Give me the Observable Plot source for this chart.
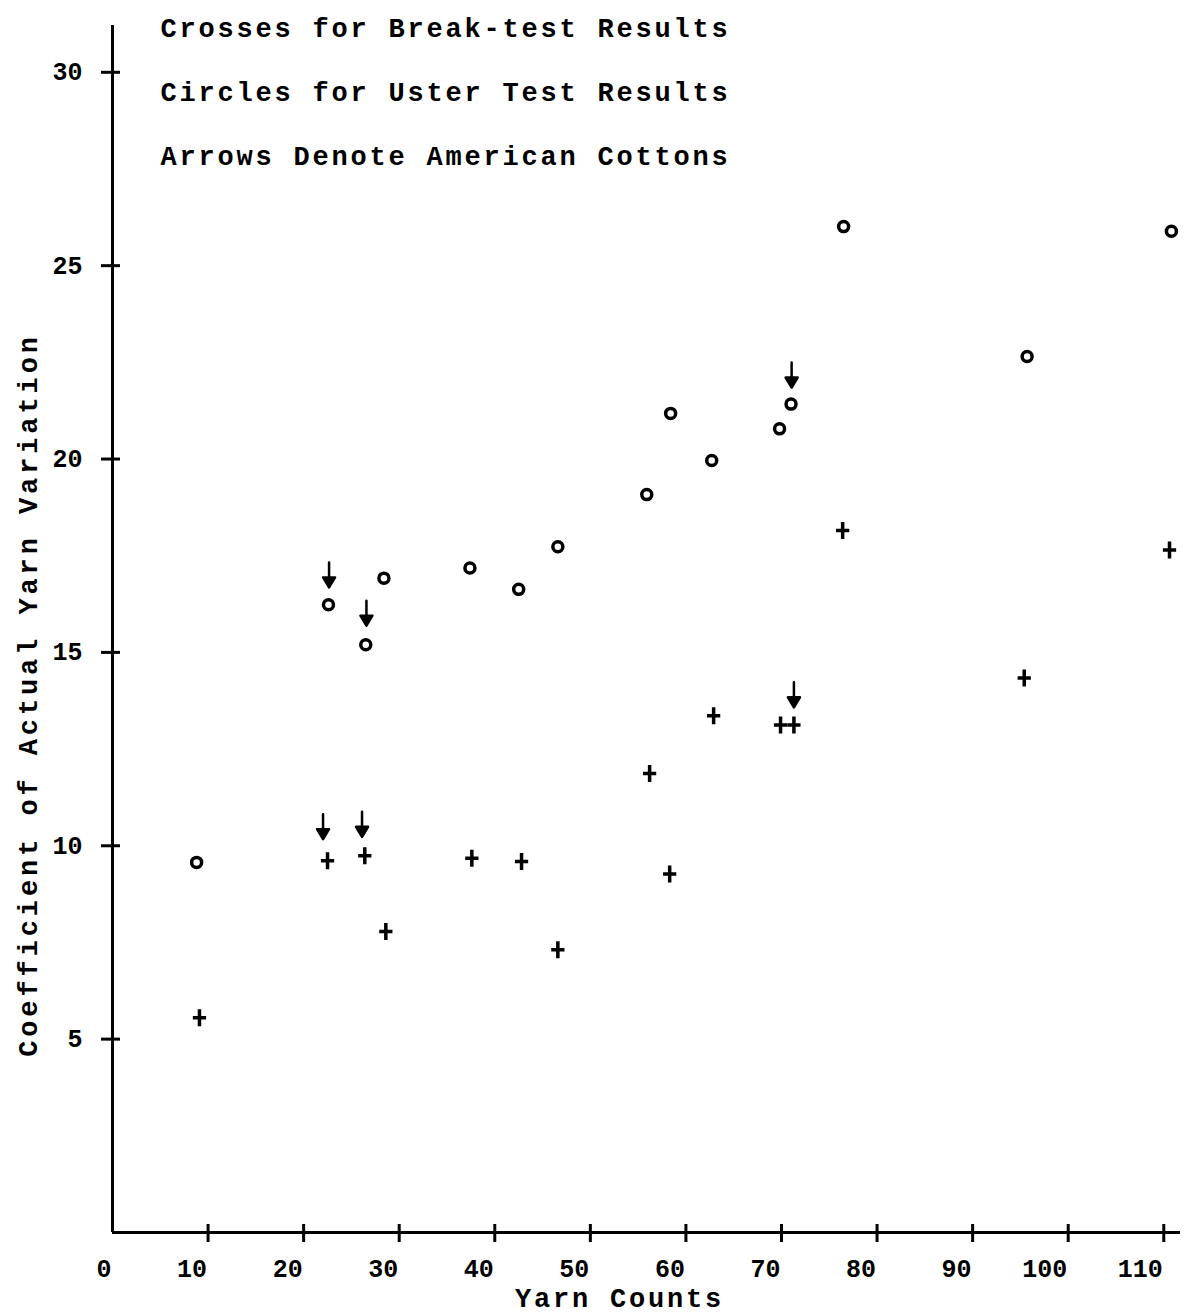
<!DOCTYPE html>
<html>
<head>
<meta charset="utf-8">
<script src="https://cdn.jsdelivr.net/npm/d3@7"></script>
<script src="https://cdn.jsdelivr.net/npm/@observablehq/plot@0.6"></script>
<style>
  body { margin: 0; background: #fff; }
</style>
</head>
<body>
<div id="chart"></div>
<script>
// Break-test results (crosses)
const crossX = [9.1, 22.5, 26.4, 28.6, 37.6, 42.8, 46.6, 56.2, 58.3, 62.9, 69.9, 71.3, 76.4, 95.4, 110.6];
const crossY = [5.55, 9.61, 9.74, 7.78, 9.68, 9.59, 7.31, 11.87, 9.27, 13.36, 13.12, 13.12, 18.15, 14.34, 17.65];
// Uster test results (circles)
const circleX = [8.8, 22.6, 28.4, 26.5, 37.4, 42.5, 46.6, 55.9, 58.4, 62.7, 69.8, 71.0, 76.5, 95.7, 110.8];
const circleY = [9.57, 16.23, 16.92, 15.20, 17.18, 16.63, 17.73, 19.08, 21.18, 19.96, 20.78, 21.42, 26.01, 22.65, 25.89];
// Arrows denoting American cottons (tip positions)
const arrowX = [22.66, 26.57, 22.03, 26.11, 71.06, 71.30];
const arrowY = [16.68, 15.69, 10.17, 10.23, 21.85, 13.58];

const xTicks = [0, 10, 20, 30, 40, 50, 60, 70, 80, 90, 100, 110];
const yTicks = [5, 10, 15, 20, 25, 30];
const legendLines = [
  "Crosses for Break-test Results",
  "Circles for Uster Test Results",
  "Arrows Denote American Cottons"
];
const xLabel = "Yarn Counts";
const yLabel = "Coefficient of Actual Yarn Variation";

const crosses = crossX.map((x, i) => ({x, y: crossY[i]}));
const circles = circleX.map((x, i) => ({x, y: circleY[i]}));
const arrows = arrowX.map((x, i) => ({x, y: arrowY[i]}));

const FONT = "'Liberation Mono', 'DejaVu Sans Mono', monospace";

const plusSymbol = {
  draw(ctx, size) {
    const s = Math.sqrt(size / Math.PI);
    ctx.moveTo(-0.78 * s, 0); ctx.lineTo(0.78 * s, 0);
    ctx.moveTo(0, -s); ctx.lineTo(0, s);
  }
};
const arrowShape = {
  draw(ctx, l) {
    const h = 10, w = 6;
    ctx.moveTo(0, 0); ctx.lineTo(0, -l + h);
    ctx.moveTo(-w, h - l); ctx.lineTo(0, -l); ctx.lineTo(w, h - l); ctx.closePath();
  }
};

const chart = Plot.plot({
  width: 1184,
  height: 1315,
  marginLeft: 112,
  marginRight: 4,
  marginTop: 25,
  marginBottom: 83,
  x: {domain: [0, 111.75]},
  y: {domain: [0, 31.21]},
  style: {fontFamily: FONT, background: "#fff", color: "#000"},
  marks: [
    Plot.ruleX([0], {strokeWidth: 3}),
    Plot.ruleY([0], {strokeWidth: 3}),
    Plot.axisX(xTicks.filter(d => d > 0), {tickSize: 18, dy: -8, strokeWidth: 3, tickFormat: () => "", label: null}),
    Plot.axisX(xTicks, {tickSize: 0, tickPadding: 27, textAnchor: "end", dx: -1, fontSize: 25, fontWeight: "bold", label: null}),
    Plot.axisY(yTicks, {tickSize: 19, dx: 8, strokeWidth: 3, tickFormat: () => "", label: null}),
    Plot.axisY(yTicks, {tickSize: 0, tickPadding: 30, fontSize: 25, fontWeight: "bold", label: null}),
    Plot.dot(circles, {x: "x", y: "y", r: 5, stroke: "#000", strokeWidth: 3.5, fill: "#fff"}),
    Plot.dot(crosses, {x: "x", y: "y", r: 8.5, symbol: plusSymbol, stroke: "#000", strokeWidth: 3.5, fill: "none"}),
    Plot.vector(arrows, {x: "x", y: "y", rotate: 180, length: 25, anchor: "end", shape: arrowShape, stroke: "#000", fill: "#000", strokeWidth: 2.5}),
    Plot.text([legendLines.join("\n")], {frameAnchor: "top-left", dx: 48, dy: -34, lineAnchor: "top", textAnchor: "start", lineHeight: 64 / 27, fontSize: 27, fontWeight: "bold"}),
    Plot.text([xLabel], {frameAnchor: "bottom", dx: -27, dy: 66, lineAnchor: "middle", textAnchor: "middle", fontSize: 27, fontWeight: "bold"}),
    Plot.text([yLabel], {frameAnchor: "left", rotate: -90, dx: -84, dy: 66, lineAnchor: "middle", textAnchor: "middle", fontSize: 27, fontWeight: "bold"})
  ]
});
// typewriter-like letter spacing for the legend and axis titles
const textGroups = chart.querySelectorAll('g[aria-label="text"]');
const spacing = ["2.8px", "2.8px", "3.9px"];
textGroups.forEach((g, i) => { g.style.letterSpacing = spacing[i] || "0"; });
document.getElementById("chart").appendChild(chart);
</script>
</body>
</html>
